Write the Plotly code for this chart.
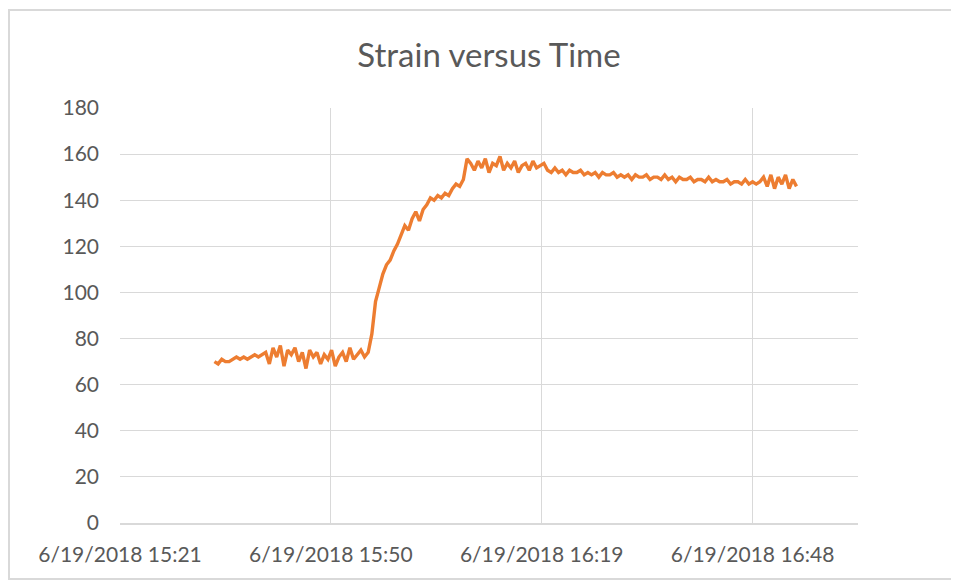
import pandas as pd
import plotly.graph_objects as go

# strain readings, one every 30 s starting 6/19/2018 15:34:30
START_TIME = "2018-06-19 15:34:30"
SAMPLE_STEP = "30s"

baseline = [
    70, 69, 71, 70, 70, 71, 72, 71, 72, 71, 72, 73, 72, 73,
    74, 69, 76, 72, 77, 68, 75, 73, 76, 70, 74, 67, 75, 72, 74, 69,
    73, 71, 75, 68, 72, 74, 70, 76, 71, 73, 75, 72, 74,
]
ramp = [
    82, 96, 102, 108, 112, 114, 118, 121, 125, 129, 127, 132, 135, 131,
    136, 138, 141, 140, 142, 141, 143, 142, 145, 147, 146, 149, 158,
]
plateau = [
    156, 153, 157, 154, 158, 152, 156, 155, 159, 153, 156,
    154, 157, 152, 155, 156, 153, 157, 154, 155, 156,
]
drift = [
    153, 152, 154, 152, 153, 151, 153, 152, 152, 153,
    151, 152, 151, 152, 150, 152, 151, 151, 152, 150,
    151, 150, 151, 149, 151, 150, 150, 151, 149, 150,
    150, 149, 151, 149, 150, 148, 150, 149, 149, 150,
    148, 149, 149, 148, 150, 148, 149, 148, 148, 149,
    147, 148, 148, 147, 149, 147, 148, 147,
]
tail = [148, 150, 146, 151, 145, 150, 147, 151, 145, 149, 146]

strain = baseline + ramp + plateau + drift + tail

# Excel axis: 0.64 to 0.71 days, major unit 0.02 days
X_MIN = "2018-06-19 15:21:36"
X_MAX = "2018-06-19 17:02:24"
X_TICKS = ["2018-06-19 15:21:36", "2018-06-19 15:50:24", "2018-06-19 16:19:12", "2018-06-19 16:48:00"]
X_LABELS = ["6/19/2018 15:21", "6/19/2018 15:50", "6/19/2018 16:19", "6/19/2018 16:48"]
Y_TICKS = [0, 20, 40, 60, 80, 100, 120, 140, 160, 180]

GRID = "#D9D9D9"
TEXT = "#595959"
FONT = "Lato, Open Sans, sans-serif"

# the page body adds an 8px margin, so the figure is a bit smaller than the window
FIG_W, FIG_H = 951, 574


def main() -> None:
    times = pd.date_range(START_TIME, periods=len(strain), freq=SAMPLE_STEP)

    fig = go.Figure(
        go.Scatter(
            x=times,
            y=strain,
            mode="lines",
            line=dict(color="#ED7D31", width=3.4),
            showlegend=False,
        )
    )

    fig.update_layout(
        width=FIG_W,
        height=FIG_H,
        margin=dict(l=112, r=101, t=100, b=59),
        paper_bgcolor="white",
        plot_bgcolor="white",
        font=dict(family=FONT, color=TEXT, size=21),
        title=dict(
            text="Strain versus Time",
            x=0.5,
            xref="paper",
            xanchor="center",
            y=1 - 47 / FIG_H,
            yref="container",
            yanchor="middle",
            font=dict(size=33, color=TEXT, family=FONT),
        ),
        shapes=[
            dict(
                type="rect",
                xref="paper",
                yref="paper",
                x0=(9 - 120) / 738,
                x1=(975 - 120) / 738,
                y0=-(579 - 523) / 415,
                y1=1 + (108 - 10) / 415,
                line=dict(color=GRID, width=2),
                layer="below",
            )
        ],
    )

    fig.update_xaxes(
        type="date",
        range=[X_MIN, X_MAX],
        tickvals=X_TICKS,
        ticktext=X_LABELS,
        showgrid=True,
        gridcolor=GRID,
        gridwidth=1,
        showline=True,
        linecolor=GRID,
        linewidth=1.5,
        zeroline=False,
        ticks="",
        ticklabelstandoff=12,
    )
    fig.update_yaxes(
        range=[0, 180],
        tickvals=Y_TICKS,
        showgrid=True,
        gridcolor=GRID,
        gridwidth=1,
        showline=False,
        zeroline=False,
        ticks="",
        ticklabelstandoff=20,
    )

    fig.write_html("out.html")


if __name__ == "__main__":
    main()
